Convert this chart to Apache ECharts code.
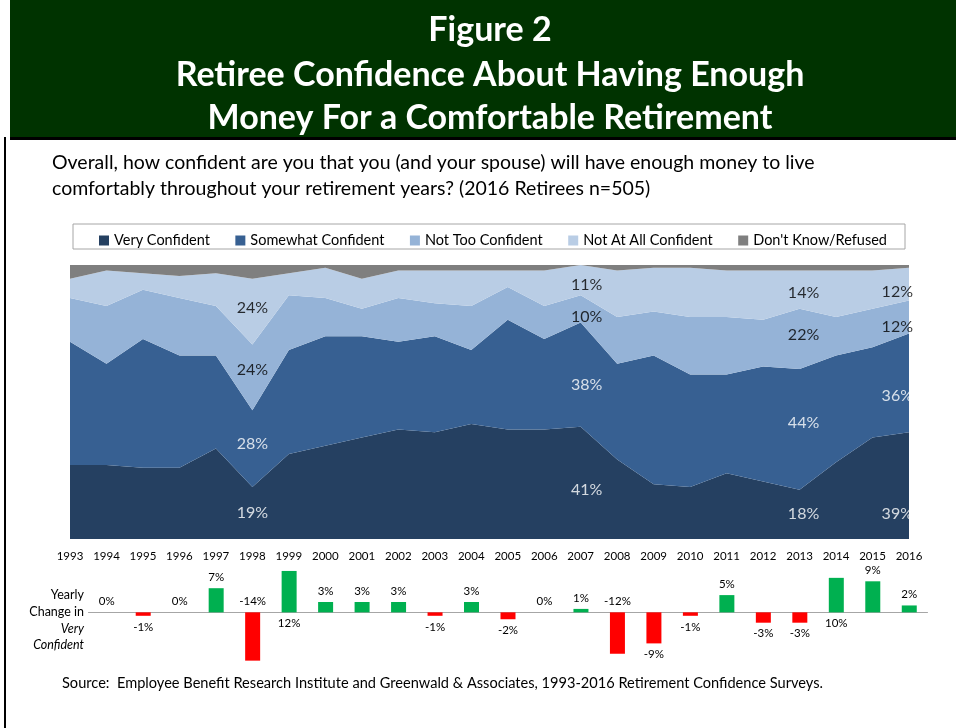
<!DOCTYPE html>
<html>
<head>
<meta charset="utf-8">
<script src="https://cdn.jsdelivr.net/npm/echarts@6/dist/echarts.min.js"></script>
<style>
html,body{margin:0;padding:0;background:#fff;}
#chart{width:956px;height:728px;}
</style>
</head>
<body>
<div id="chart"></div>
<script>
// ---- data ----
var years = ['1993','1994','1995','1996','1997','1998','1999','2000','2001','2002','2003','2004','2005','2006','2007','2008','2009','2010','2011','2012','2013','2014','2015','2016'];
var veryConfident     = [27,27,26,26,33,19,31,34,37,40,39,42,40,40,41,29,20,19,24,21,18,28,37,39];
var somewhatConfident = [45,37,47,41,34,28,38,40,37,32,35,27,40,33,38,35,47,41,36,42,44,39,33,36];
var notTooConfident   = [16,21,18,21,18,24,20,14,10,16,12,16,12,12,10,17,16,21,21,17,22,14,14,12];
var notAtAllConfident = [7,13,6,8,12,24,8,11,11,10,12,13,6,13,11,17,16,18,17,18,14,17,14,12];
var dontKnowRefused   = [5,2,3,4,3,5,3,1,5,2,2,2,2,2,0,2,1,1,2,2,2,2,2,1];
var changeYears = ['1994','1995','1996','1997','1998','1999','2000','2001','2002','2003','2004','2005','2006','2007','2008','2009','2010','2011','2012','2013','2014','2015','2016'];
var yearlyChange = [0,-1,0,7,-14,12,3,3,3,-1,3,-2,0,1,-12,-9,-1,5,-3,-3,10,9,2];
var labeledYears = ['1998','2007','2013','2016'];
var seriesNames = ['Very Confident','Somewhat Confident','Not Too Confident','Not At All Confident',"Don't Know/Refused"];

// ---- config ----
var FONT = 'Lato, "Open Sans", sans-serif';
var colors = ['#254061','#376092','#95B3D7','#B9CDE5','#7F7F7F'];
var bands = [veryConfident, somewhatConfident, notTooConfident, notAtAllConfident];
var labelColors = ['#ffffff','#ffffff','#000000','#000000'];
var changeLabelsBelow = ['1995','1999','2003','2005','2009','2010','2012','2013','2014'];
// fine label nudges (px) per labeled year: [dx, dy for each band]
var labelNudge = {
  '1998': {dx: 0, dy: [0, -5, -7, -4]},
  '2007': {dx: 6, dy: [7, 10, 8, 5]},
  '2013': {dx: 4, dy: [0, -7, -4, 3]},
  '2016': {dx: 4, dy: [28, 13, 10, 8]}
};

var chart = echarts.init(document.getElementById('chart'));

var areaSeries = [veryConfident, somewhatConfident, notTooConfident, notAtAllConfident, dontKnowRefused].map(function(d, i){
  return {
    name: seriesNames[i], type: 'line', stack: 'total', xAxisIndex: 0, yAxisIndex: 0,
    data: d, symbol: 'none', smooth: false, z: 2,
    lineStyle: {width: 0}, areaStyle: {color: colors[i], opacity: 1},
    itemStyle: {color: colors[i]}, emphasis: {disabled: true}, silent: true
  };
});

// band-center labels
var labelData = [];
labeledYears.forEach(function(y){
  var idx = years.indexOf(y);
  var cum = 0;
  var nudge = labelNudge[y];
  bands.forEach(function(b, bi){
    var v = b[idx];
    var last = idx === years.length - 1;
    labelData.push({
      value: [y, cum + v / 2],
      label: {
        formatter: v + '%', color: labelColors[bi],
        align: last ? 'right' : 'center',
        offset: [nudge.dx, nudge.dy[bi]]
      }
    });
    cum += v;
  });
});

var barData = yearlyChange.map(function(v, i){
  var below = changeLabelsBelow.indexOf(changeYears[i]) >= 0;
  return {
    value: v,
    itemStyle: {color: v >= 0 ? '#00B050' : '#FF0000'},
    label: {position: below ? 'bottom' : 'top'}
  };
});

var option = {
  animation: false,
  textStyle: {fontFamily: FONT},
  legend: {
    data: seriesNames, left: 94, top: 228, itemWidth: 10, itemHeight: 10, itemGap: 25.5,
    icon: 'rect', textStyle: {fontFamily: FONT, fontSize: 14.5, color: '#000'},
    selectedMode: false
  },
  grid: [
    {left: 70, top: 265, width: 839, height: 274},
    {left: 88.5, top: 567.5, width: 839, height: 96.6}
  ],
  xAxis: [
    {type: 'category', gridIndex: 0, data: years, boundaryGap: false,
     axisLine: {show: false}, axisTick: {show: false}, splitLine: {show: false},
     axisLabel: {color: '#000', fontSize: 11.5, margin: 11, interval: 0, fontFamily: FONT}},
    {type: 'category', gridIndex: 1, data: changeYears, boundaryGap: true,
     axisLine: {show: true, onZero: true, lineStyle: {color: '#A6A6A6', width: 1}},
     axisTick: {show: false}, axisLabel: {show: false}, splitLine: {show: false}}
  ],
  yAxis: [
    {type: 'value', gridIndex: 0, min: 0, max: 100, show: false, splitLine: {show: false}},
    {type: 'value', gridIndex: 1, min: -15, max: 13, show: false, splitLine: {show: false}}
  ],
  series: areaSeries.concat([
    {type: 'scatter', xAxisIndex: 0, yAxisIndex: 0, data: labelData, symbolSize: 0, z: 10, zlevel: 1, silent: true,
     itemStyle: {color: 'rgba(0,0,0,0)'},
     label: {show: true, position: 'inside', fontSize: 16, fontFamily: FONT}},
    {type: 'bar', xAxisIndex: 1, yAxisIndex: 1, data: barData, barWidth: 15, silent: true,
     label: {show: true, formatter: function(p){ return p.value + '%'; }, color: '#000', fontSize: 11.5, fontFamily: FONT, distance: 5}}
  ]),
  graphic: [
    {type: 'rect', shape: {x: 10, y: 0, width: 946, height: 138}, style: {fill: '#003300'}, z: 0},
    {type: 'rect', shape: {x: 10, y: 137, width: 946, height: 3}, style: {fill: '#000'}, z: 1},
    {type: 'rect', shape: {x: 4, y: 137, width: 2, height: 591}, style: {fill: '#000'}, z: 1},
    {type: 'text', x: 490, y: 30, style: {text: 'Figure 2', fill: '#fff', font: 'bold 34px ' + FONT, textAlign: 'center', textVerticalAlign: 'middle'}},
    {type: 'text', x: 490, y: 75, style: {text: 'Retiree Confidence About Having Enough', fill: '#fff', font: 'bold 34px ' + FONT, textAlign: 'center', textVerticalAlign: 'middle'}},
    {type: 'text', x: 490, y: 118, style: {text: 'Money For a Comfortable Retirement', fill: '#fff', font: 'bold 34px ' + FONT, textAlign: 'center', textVerticalAlign: 'middle'}},
    {type: 'text', x: 52, y: 163, style: {text: 'Overall, how confident are you that you (and your spouse) will have enough money to live', fill: '#000', font: '19.5px ' + FONT, textVerticalAlign: 'middle'}},
    {type: 'text', x: 52, y: 189, style: {text: 'comfortably throughout your retirement years? (2016 Retirees n=505)', fill: '#000', font: '19.5px ' + FONT, textVerticalAlign: 'middle'}},
    {type: 'rect', shape: {x: 73, y: 224, width: 832, height: 25}, style: {fill: 'none', stroke: '#A6A6A6', lineWidth: 1}},
    {type: 'text', x: 84, y: 595, style: {text: 'Yearly', fill: '#000', font: '12.5px ' + FONT, textAlign: 'right', textVerticalAlign: 'middle'}},
    {type: 'text', x: 84, y: 612, style: {text: 'Change in', fill: '#000', font: '12.5px ' + FONT, textAlign: 'right', textVerticalAlign: 'middle'}},
    {type: 'text', x: 84, y: 629, style: {text: 'Very', fill: '#000', font: 'italic 12.5px ' + FONT, textAlign: 'right', textVerticalAlign: 'middle'}},
    {type: 'text', x: 84, y: 645, style: {text: 'Confident', fill: '#000', font: 'italic 12.5px ' + FONT, textAlign: 'right', textVerticalAlign: 'middle'}},
    {type: 'text', x: 62, y: 683, style: {text: 'Source:  Employee Benefit Research Institute and Greenwald & Associates, 1993-2016 Retirement Confidence Surveys.', fill: '#000', font: '14.6px ' + FONT, textVerticalAlign: 'middle'}}
  ]
};
chart.setOption(option);
</script>
</body>
</html>
